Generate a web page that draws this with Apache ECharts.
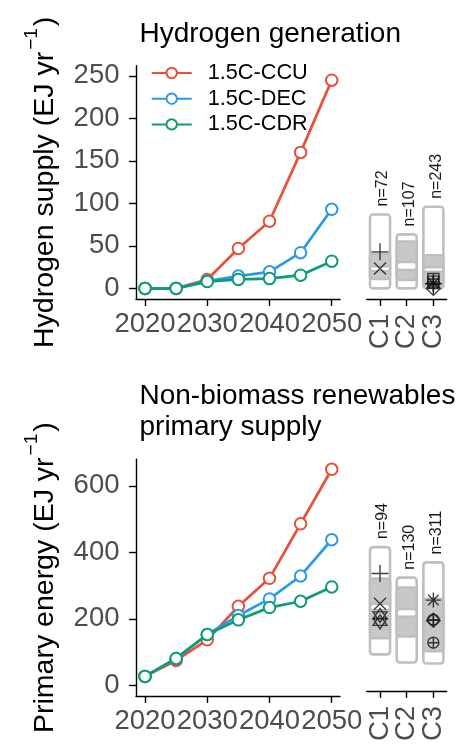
<!DOCTYPE html>
<html>
<head>
<meta charset="utf-8">
<script src="https://cdn.jsdelivr.net/npm/echarts@6/dist/echarts.min.js"></script>
<style>
  html, body { margin: 0; padding: 0; background: #ffffff; }
  #chart { width: 459px; height: 744px; }
</style>
</head>
<body>
<div id="chart"></div>
<script>
// ---- Data ----
const years = [2020, 2025, 2030, 2035, 2040, 2045, 2050];
const yearTicks = [2020, 2030, 2040, 2050];
const scenarioNames = ['1.5C-CCU', '1.5C-DEC', '1.5C-CDR'];
const categories = ['C1', 'C2', 'C3'];

// Hydrogen generation (EJ/yr)
const h2CCU = [0, 0, 10.5, 47, 79, 160, 245];
const h2DEC = [0, 0, 8.5, 14.5, 19.5, 42, 93];
const h2CDR = [0, 0, 8, 10.5, 11.5, 15.5, 32];
const h2Ticks = [0, 50, 100, 150, 200, 250];
// Category ranges: full range, shaded range, central band, sample size
const h2Min = [0, 0, 0];
const h2Max = [87, 63.5, 96];
const h2ShadeLo = [11, 10, 3];
const h2ShadeHi = [41, 55, 39];
const h2BandLo = [20, 21.5, 19.5];
const h2BandHi = [26, 31, 25];
const h2N = [72, 107, 243];
const h2MarkCat = ['C1', 'C1', 'C3', 'C3', 'C3', 'C3', 'C3'];
const h2MarkVal = [43, 23.5, 11, 8, 6, 5.5, 0];
const h2MarkShape = ['plus', 'cross', 'squarePlus', 'squarePlus', 'asterisk', 'plus', 'diamondPlus'];

// Non-biomass renewables primary supply (EJ/yr)
const reCCU = [27, 75, 137, 238, 322, 486, 650];
const reDEC = [27, 81, 153, 210, 260, 329, 438];
const reCDR = [27, 81, 153, 197, 234, 253, 296];
const reTicks = [0, 200, 400, 600];
const reMin = [80, 55, 52];
const reMax = [410, 316, 363];
const reShadeLo = [130, 135.5, 90];
const reShadeHi = [313, 286, 251];
const reBandLo = [216, 196, 180];
const reBandHi = [236, 220, 194];
const reN = [94, 130, 311];
const reMarkCat = ['C1', 'C1', 'C1', 'C1', 'C3', 'C3', 'C3', 'C3'];
const reMarkVal = [329, 236, 200, 180, 247, 187, 185, 116];
const reMarkShape = ['plus', 'cross', 'starDavid', 'starDavid', 'asterisk', 'circlePlus', 'diamondPlus', 'circlePlus'];

// ---- Styling ----
const FONT = "'Liberation Sans', Arial, sans-serif";
const COLORS = { '1.5C-CCU': '#E8503A', '1.5C-DEC': '#2A9AE8', '1.5C-CDR': '#0E9C78' };
const TICK_TEXT = '#4d4d4d';
const BOX_EDGE = '#bfbfbf';
const BOX_FILL = '#c8c8c8';

const SHAPES = {
  plus: { path: 'path://M0,10L20,10M10,0L10,20', size: 17 },
  cross: { path: 'path://M0,0L20,20M20,0L0,20', size: 12 },
  asterisk: { path: 'path://M0,10L20,10M10,0L10,20M3,3L17,17M17,3L3,17', size: 15 },
  squarePlus: { path: 'path://M0,0L20,0L20,20L0,20ZM0,10L20,10M10,0L10,20', size: 11 },
  circlePlus: { path: 'path://M10,0A10,10 0 1,1 9.99,0ZM0,10L20,10M10,0L10,20', size: 11 },
  diamondPlus: { path: 'path://M10,0L20,10L10,20L0,10ZM0,10L20,10M10,0L10,20', size: 14 },
  starDavid: { path: 'path://M10,0L20,15L0,15ZM10,20L0,5L20,5Z', size: 14 }
};

const PANELS = [
  { top: 65.7, height: 233.3, yMin: -12.5, yMax: 262, ticks: h2Ticks,
    series: [h2CCU, h2DEC, h2CDR],
    box: { min: h2Min, max: h2Max, lo: h2ShadeLo, hi: h2ShadeHi, bLo: h2BandLo, bHi: h2BandHi, n: h2N },
    marks: { cat: h2MarkCat, val: h2MarkVal, shape: h2MarkShape },
    title: 'Hydrogen generation', titleTop: 13,
    yName: 'Hydrogen supply (EJ yr' },
  { top: 459.3, height: 236.7, yMin: -32, yMax: 680, ticks: reTicks,
    series: [reCCU, reDEC, reCDR],
    box: { min: reMin, max: reMax, lo: reShadeLo, hi: reShadeHi, bLo: reBandLo, bHi: reBandHi, n: reN },
    marks: { cat: reMarkCat, val: reMarkVal, shape: reMarkShape },
    title: 'Non-biomass renewables\nprimary supply', titleTop: 375,
    yName: 'Primary energy (EJ yr' }
];

const LINE_LEFT = 136, LINE_W = 204, BOX_LEFT = 366.7, BOX_W = 80;
const AXIS_LINE = { onZero: false, lineStyle: { color: '#000', width: 1.4 } };
const AXIS_TICK_STYLE = { color: '#000', width: 1.4 };

const grid = [], xAxis = [], yAxis = [], series = [], title = [];

function boxRenderer(box) {
  return function (params, api) {
    const i = params.dataIndex;
    const cx = api.coord([i, 0])[0];
    const w = api.size([1, 0])[0] * 0.75;
    const py = v => api.coord([i, v])[1];
    const rect = (a, b, fill) => ({
      type: 'rect',
      shape: { x: cx - w / 2, y: py(b), width: w, height: py(a) - py(b), r: 3 },
      style: { fill: fill, stroke: BOX_EDGE, lineWidth: 2.6 }
    });
    return {
      type: 'group',
      children: [
        rect(box.min[i], box.max[i], '#ffffff'),
        rect(box.lo[i], box.hi[i], BOX_FILL),
        rect(box.bLo[i], box.bHi[i], '#ffffff'),
        {
          type: 'text',
          x: cx + 3, y: py(box.max[i]) - 8,
          rotation: Math.PI / 2,
          style: { text: 'n=' + box.n[i], fontSize: 16, fontFamily: FONT, fill: '#1a1a1a', align: 'left', verticalAlign: 'middle' }
        }
      ]
    };
  };
}

PANELS.forEach((p) => {
  const gLine = grid.length;
  grid.push({ left: LINE_LEFT, top: p.top, width: LINE_W, height: p.height });
  grid.push({ left: BOX_LEFT, top: p.top, width: BOX_W, height: p.height });

  title.push({
    text: p.title, left: 134.5, top: p.titleTop,
    textStyle: { fontFamily: FONT, fontSize: 28, fontWeight: 'normal', color: '#000', lineHeight: 31.6 }
  });

  xAxis.push({
    type: 'value', gridIndex: gLine, min: 2018.55, max: 2051.33,
    axisLine: AXIS_LINE,
    axisTick: { customValues: yearTicks, length: 7, lineStyle: AXIS_TICK_STYLE },
    axisLabel: { customValues: yearTicks, formatter: v => String(v), fontFamily: FONT, fontSize: 27.5, color: TICK_TEXT, margin: 11 },
    splitLine: { show: false }
  });
  xAxis.push({
    type: 'category', gridIndex: gLine + 1, data: categories,
    axisLine: AXIS_LINE,
    axisTick: { show: true, interval: 0, alignWithLabel: true, length: 7, lineStyle: AXIS_TICK_STYLE },
    axisLabel: { interval: 0, rotate: 90, fontFamily: FONT, fontSize: 27.5, color: TICK_TEXT, margin: 15 }
  });

  yAxis.push({
    type: 'value', gridIndex: gLine, min: p.yMin, max: p.yMax,
    axisLine: Object.assign({ show: true }, AXIS_LINE),
    axisTick: { show: true, customValues: p.ticks, length: 7, lineStyle: AXIS_TICK_STYLE },
    axisLabel: { customValues: p.ticks, fontFamily: FONT, fontSize: 27.5, color: TICK_TEXT, margin: 16.5 },
    splitLine: { show: false },
    name: '{a|' + p.yName + '}{s|−1}{a|)}',
    nameLocation: 'middle', nameRotate: 90, nameGap: 76,
    nameTextStyle: {
      rich: {
        a: { fontFamily: FONT, fontSize: 28.5, color: '#000', lineHeight: 38, verticalAlign: 'bottom' },
        s: { fontFamily: FONT, fontSize: 19, color: '#000', lineHeight: 38, verticalAlign: 'top', padding: [0, 2, 0, 2] }
      }
    }
  });
  yAxis.push({
    type: 'value', gridIndex: gLine + 1, min: p.yMin, max: p.yMax, show: false,
    splitLine: { show: false }
  });

  // Scenario lines, drawn CCU, CDR, then DEC on top
  [0, 2, 1].forEach(s => {
    const name = scenarioNames[s];
    series.push({
      type: 'line', name: name, xAxisIndex: gLine, yAxisIndex: gLine,
      data: years.map((y, j) => [y, p.series[s][j]]),
      symbol: 'emptyCircle', symbolSize: 11.5,
      lineStyle: { color: COLORS[name], width: 2.7 },
      itemStyle: { color: COLORS[name], borderWidth: 1.7 },
      z: 3 + s
    });
  });

  series.push({
    type: 'custom', xAxisIndex: gLine + 1, yAxisIndex: gLine + 1,
    data: categories.map((c, i) => [i, p.box.min[i], p.box.max[i]]),
    encode: { x: 0, y: [1, 2] },
    renderItem: boxRenderer(p.box),
    z: 2
  });

  series.push({
    type: 'scatter', xAxisIndex: gLine + 1, yAxisIndex: gLine + 1,
    data: p.marks.cat.map((c, j) => ({
      value: [c, p.marks.val[j]],
      symbol: SHAPES[p.marks.shape[j]].path,
      symbolSize: SHAPES[p.marks.shape[j]].size
    })),
    symbolKeepAspect: true,
    itemStyle: { color: 'rgba(0,0,0,0)', borderColor: '#111', borderWidth: 1.4 },
    z: 5
  });
});

const chart = echarts.init(document.getElementById('chart'), null, { renderer: 'canvas' });
chart.setOption({
  animation: false,
  backgroundColor: '#ffffff',
  textStyle: { fontFamily: FONT },
  title: title,
  legend: {
    data: scenarioNames, orient: 'vertical', left: 145.7, top: 57,
    itemWidth: 40, itemHeight: 13, itemGap: 3.7,
    textStyle: { fontFamily: FONT, fontSize: 21.7, color: '#000', lineHeight: 22, padding: [0, 0, 0, 11] },
    selectedMode: false
  },
  grid: grid,
  xAxis: xAxis,
  yAxis: yAxis,
  series: series
});
</script>
</body>
</html>
